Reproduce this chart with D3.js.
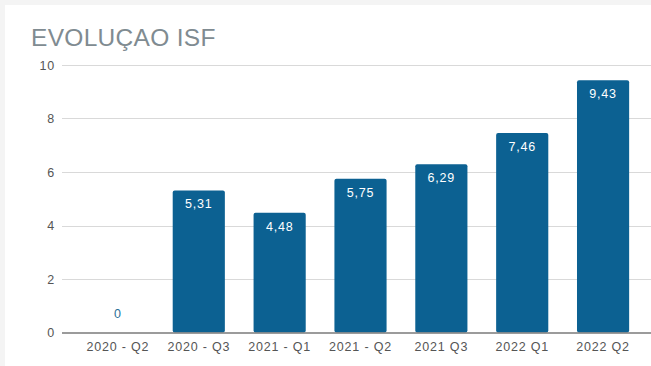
<!DOCTYPE html>
<html>
<head>
<meta charset="utf-8">
<script src="https://cdn.jsdelivr.net/npm/d3@7"></script>
<style>
  html, body { margin: 0; padding: 0; background: #f4f4f4; }
  svg { display: block; }
</style>
</head>
<body>
<svg id="chart" width="651" height="366"></svg>
<script>
const title = "EVOLUÇAO ISF";
const categories = ["2020 - Q2", "2020 - Q3", "2021 - Q1", "2021 - Q2", "2021 Q3", "2022 Q1", "2022 Q2"];
const values = [0, 5.31, 4.48, 5.75, 6.29, 7.46, 9.43];
const valueLabels = ["0", "5,31", "4,48", "5,75", "6,29", "7,46", "9,43"];
const yTicks = [0, 2, 4, 6, 8, 10];

const W = 651, H = 366;
const svg = d3.select("#chart");

svg.append("rect").attr("x", 0).attr("y", 0).attr("width", W).attr("height", H).attr("fill", "#f4f4f4");
svg.append("rect").attr("x", 5).attr("y", 5).attr("width", W - 5).attr("height", H - 5).attr("fill", "#ffffff");

svg.append("text")
  .attr("x", 31).attr("y", 45.5)
  .attr("font-family", "Liberation Sans, Arial, sans-serif")
  .attr("font-size", 24.5)
  .attr("letter-spacing", 0.3)
  .attr("fill", "#808b91")
  .text(title);

const x = d3.scaleBand().domain(categories).range([77.5, 643.5]).paddingInner(0.355).paddingOuter(0.1775);
const y = d3.scaleLinear().domain([0, 10]).range([332.5, 65]);

const font = "Liberation Sans, Arial, sans-serif";

// grid
svg.append("g").selectAll("line").data(yTicks.filter(d => d !== 0)).join("line")
  .attr("x1", 62).attr("x2", W)
  .attr("y1", d => Math.round(y(d)) + 0.5).attr("y2", d => Math.round(y(d)) + 0.5)
  .attr("stroke", "#d9d9d9").attr("stroke-width", 1);

// y axis labels
const yAxis = svg.append("g")
  .attr("transform", "translate(55,0)")
  .call(d3.axisLeft(y).tickValues(yTicks).tickSize(0).tickPadding(0).tickFormat(d3.format("d")));
yAxis.select(".domain").remove();
yAxis.selectAll("text")
  .attr("font-family", font).attr("font-size", 12.5)
  .attr("letter-spacing", 0.8)
  .attr("fill", "#555");

// bars
svg.append("g").selectAll("rect").data(values).join("rect")
  .attr("x", (d, i) => x(categories[i]))
  .attr("width", x.bandwidth())
  .attr("y", d => y(d))
  .attr("height", d => y(0) - y(d))
  .attr("rx", 2)
  .attr("fill", "#0c6192");

// value labels
svg.append("g").selectAll("text").data(values).join("text")
  .attr("x", (d, i) => x(categories[i]) + x.bandwidth() / 2)
  .attr("y", d => d === 0 ? y(0) - 15 : y(d) + 18)
  .attr("text-anchor", "middle")
  .attr("font-family", font).attr("font-size", 12.5)
  .attr("letter-spacing", 0.8)
  .attr("fill", d => d === 0 ? "#2a6f97" : "#ffffff")
  .text((d, i) => valueLabels[i]);

// zero axis line
svg.append("line")
  .attr("x1", 62).attr("x2", W)
  .attr("y1", y(0) + 0.5).attr("y2", y(0) + 0.5)
  .attr("stroke", "#7a7a7a").attr("stroke-width", 1.5);

// x axis labels
const xAxis = svg.append("g")
  .attr("transform", `translate(0,${y(0)})`)
  .call(d3.axisBottom(x).tickSize(0).tickPadding(10));
xAxis.select(".domain").remove();
xAxis.selectAll("text")
  .attr("font-family", font).attr("font-size", 12.5)
  .attr("letter-spacing", 0.8)
  .attr("fill", "#555");
</script>
</body>
</html>
